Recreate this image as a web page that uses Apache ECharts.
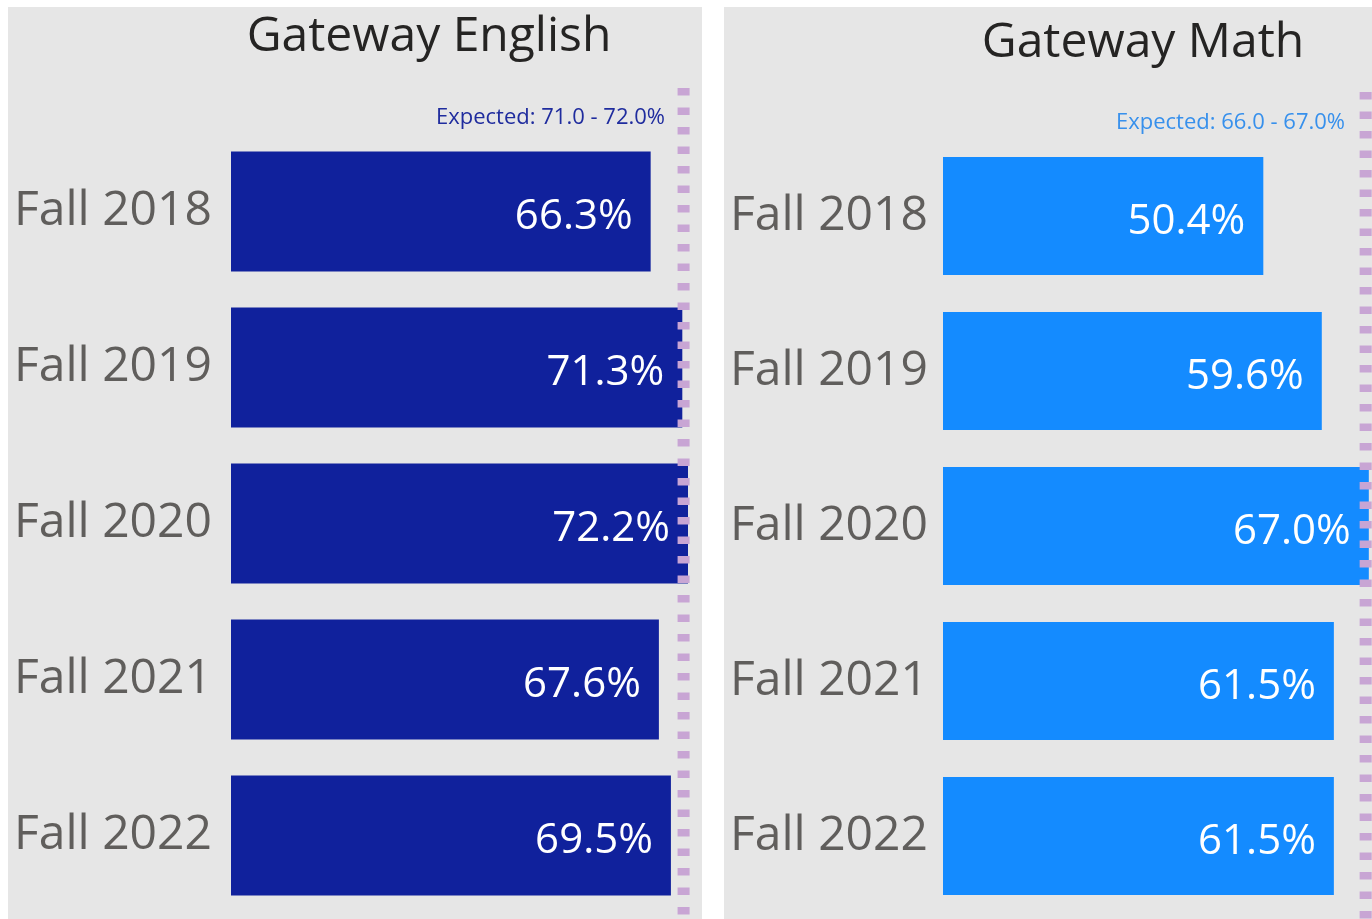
<!DOCTYPE html>
<html>
<head>
<meta charset="utf-8">
<script src="https://cdn.jsdelivr.net/npm/echarts@6/dist/echarts.min.js"></script>
<style>
  html, body { margin: 0; padding: 0; background: #fff; }
  #chart { width: 1372px; height: 919px; }
</style>
</head>
<body>
<div id="chart"></div>
<script>
const terms = ['Fall 2018', 'Fall 2019', 'Fall 2020', 'Fall 2021', 'Fall 2022']
const englishRates = [66.3, 71.3, 72.2, 67.6, 69.5]
const mathRates = [50.4, 59.6, 67.0, 61.5, 61.5]
const englishExpected = [71.0, 72.0]
const mathExpected = [66.0, 67.0]

const FONT = 'Open Sans'
const mid = r => (r[0] + r[1]) / 2
const expectedText = r => 'Expected: ' + r[0].toFixed(1) + ' - ' + r[1].toFixed(1) + '%'

const chart = echarts.init(document.getElementById('chart'))

function barSeries(idx, data, color, width) {
  return {
    type: 'bar',
    xAxisIndex: idx,
    yAxisIndex: idx,
    data: data,
    barWidth: width,
    itemStyle: { color: color },
    label: {
      show: true,
      position: 'insideRight',
      distance: 18,
      offset: [0, 6],
      color: '#fff',
      fontFamily: FONT,
      fontSize: 42,
      formatter: p => p.value.toFixed(1) + '%'
    },
    silent: true
  }
}

// dashed "expected" marker, drawn on its own taller grid sharing the x scale
function refLine(idx, value) {
  return {
    type: 'line',
    xAxisIndex: idx,
    yAxisIndex: idx,
    data: [[value, 1], [value, 0]],
    symbol: 'none',
    lineStyle: { color: '#c8a5d4', width: 12, type: [7.5, 12] },
    z: 5,
    silent: true
  }
}

const catAxis = (idx, margin) => ({
  type: 'category',
  gridIndex: idx,
  data: terms,
  inverse: true,
  axisLine: { show: false },
  axisTick: { show: false },
  axisLabel: {
    align: 'left',
    margin: margin,
    padding: [7, 0, 0, 0],
    fontFamily: FONT,
    fontSize: 48,
    color: '#605e5c'
  }
})

const valAxis = (idx, max) => ({
  type: 'value',
  gridIndex: idx,
  min: 0,
  max: max,
  show: false,
  splitLine: { show: false }
})

const hiddenY = idx => ({ type: 'value', gridIndex: idx, min: 0, max: 1, show: false })

chart.setOption({
  backgroundColor: '#ffffff',
  animation: false,
  graphic: [
    { type: 'rect', shape: { x: 8, y: 7, width: 694, height: 912 }, style: { fill: '#e6e6e6' }, z: -10 },
    { type: 'rect', shape: { x: 724, y: 7, width: 648, height: 912 }, style: { fill: '#e6e6e6' }, z: -10 },
    {
      type: 'text', x: 429, y: 37,
      style: { text: 'Gateway English', fontFamily: FONT, fontSize: 48, fill: '#252423', align: 'center', verticalAlign: 'middle' }
    },
    {
      type: 'text', x: 1143, y: 43,
      style: { text: 'Gateway Math', fontFamily: FONT, fontSize: 48, fill: '#252423', align: 'center', verticalAlign: 'middle' }
    },
    {
      type: 'text', x: 665, y: 118,
      style: { text: expectedText(englishExpected), fontFamily: FONT, fontSize: 22, fill: '#1f2c9e', align: 'right', verticalAlign: 'middle' }
    },
    {
      type: 'text', x: 1345, y: 123,
      style: { text: expectedText(mathExpected), fontFamily: FONT, fontSize: 22, fill: '#3790ec', align: 'right', verticalAlign: 'middle' }
    }
  ],
  grid: [
    { left: 231, width: 468.4, top: 133.5, height: 780 },
    { left: 943, width: 430, top: 138.5, height: 775 },
    { left: 231, width: 468.4, top: 88, bottom: 0 },
    { left: 943, width: 430, top: 92, bottom: 0 }
  ],
  xAxis: [valAxis(0, 74), valAxis(1, 67.5), valAxis(2, 74), valAxis(3, 67.5)],
  yAxis: [catAxis(0, 217), catAxis(1, 213), hiddenY(2), hiddenY(3)],
  series: [
    barSeries(0, englishRates, '#10219c', 120),
    barSeries(1, mathRates, '#148bff', 118),
    refLine(2, mid(englishExpected)),
    refLine(3, mid(mathExpected))
  ]
})
</script>
</body>
</html>
